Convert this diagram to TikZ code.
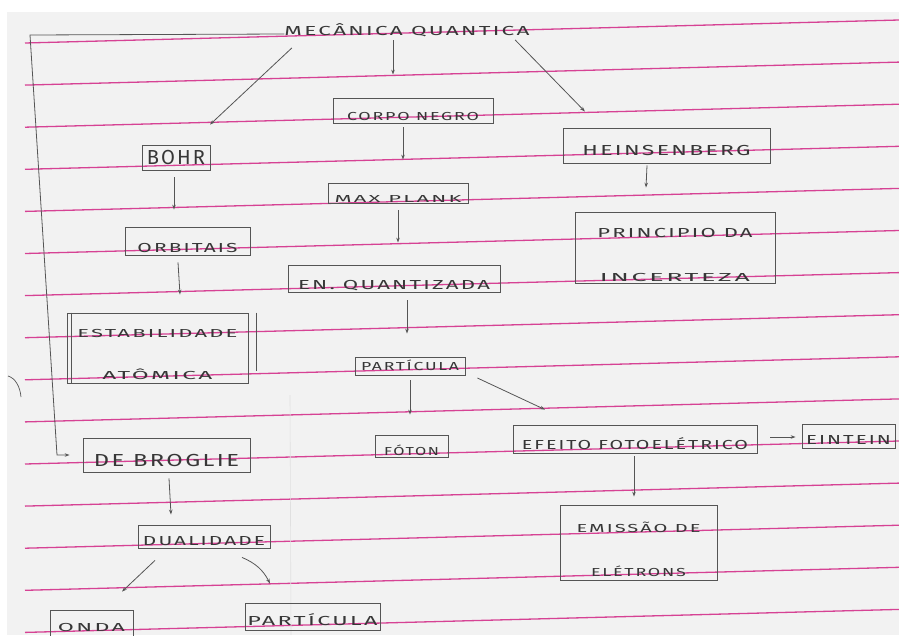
\documentclass[tikz,border=0pt]{standalone}
\usepackage{fontspec}
\usepackage{graphicx}
\usetikzlibrary{arrows.meta}
\newfontfamily\hand[LetterSpace=10]{Fira Sans}
\definecolor{paper}{RGB}{242,242,242}
\definecolor{ruling}{RGB}{214,66,148}
\definecolor{pencil}{RGB}{85,85,85}
\definecolor{ink}{RGB}{55,55,55}
% lettering: width, cap height, text
\newcommand{\hw}[3]{\resizebox{#1pt}{#2pt}{\hand\rule{0pt}{0.689em}\smash{#3}}}
% invisible strut that pushes a line down inside its box
\newcommand{\up}[1]{\rule{0pt}{#1pt}}

\begin{document}
\begin{tikzpicture}[x=1pt,y=-1pt,
  box/.style={draw=pencil, line width=0.8pt, rectangle, inner sep=0pt, text=ink},
  lbl/.style={inner sep=0pt, text=ink},
  arr/.style={draw=pencil, line width=0.8pt, -{Stealth[length=5pt,width=3.5pt]}},
  ruled/.style={draw=ruling, line width=1.3pt}]

\useasboundingbox (0,0) rectangle (899,635);
\fill[white] (0,0) rectangle (899,635);
\fill[paper] (7,12) rectangle (899,635);

% ruled lines of the notebook page
\foreach \i in {0,...,14}
  \draw[ruled] (25,{43+42.1*\i}) -- (899,{20+42.1*\i});
% faint fold of the sheet
\draw[black!12, line width=0.6pt] (290,395) -- (291,635);
% torn edge of a punched hole
\draw[pencil, line width=0.7pt] (8,376) .. controls (15,378) and (20,386) .. (21,397);

% ---- concepts ----
\node[lbl] (mq) at (407,31) {\hw{245}{9}{MECÂNICA QUANTICA}};

\node[box, minimum width=160pt, minimum height=25pt] (corpo) at (413,110.5)
  {\up{19}\hw{132}{8}{CORPO NEGRO}};
\node[box, minimum width=140pt, minimum height=20pt] (plank) at (398,193)
  {\up{19}\hw{127}{7}{MAX PLANK}};
\node[box, minimum width=212pt, minimum height=27pt] (enq) at (394,278.5)
  {\up{22}\hw{192}{9}{EN. QUANTIZADA}};
\node[box, minimum width=110pt, minimum height=18pt] (part) at (410,366)
  {\hw{98}{8}{PARTÍCULA}};
\node[box, minimum width=73pt, minimum height=22pt] (foton) at (411.5,446)
  {\up{18}\hw{55}{8}{FÓTON}};
\node[box, minimum width=244pt, minimum height=28pt] (efeito) at (635,439)
  {\up{21}\hw{226}{9}{EFEITO FOTOELÉTRICO}};
\node[box, minimum width=93pt, minimum height=24pt] (eintein) at (848.5,436)
  {\up{17}\hw{85}{9}{EINTEIN}};
\node[box, minimum width=157pt, minimum height=75pt, align=center,
      font=\fontsize{10}{44}\selectfont] (emissao) at (638.5,542.5)
  {\up{23}\hw{124}{8}{EMISSÃO DE}\\\hw{95}{8}{ELÉTRONS}};

\node[box, minimum width=207pt, minimum height=35pt] (heins) at (666.5,145.5)
  {\up{19}\hw{168}{10}{HEINSENBERG}};
\node[box, minimum width=200pt, minimum height=71pt, align=center,
      font=\fontsize{10}{44}\selectfont] (princ) at (675,247.5)
  {\up{24}\hw{155}{9}{PRINCIPIO DA}\\\hw{150}{8}{INCERTEZA}};

\node[box, minimum width=68pt, minimum height=25pt] (bohr) at (176,157.5)
  {\hw{58}{14}{BOHR}};
\node[box, minimum width=125pt, minimum height=28pt] (orb) at (187.5,241)
  {\up{23}\hw{100}{9}{ORBITAIS}};
\node[box, minimum width=181pt, minimum height=70pt, align=center,
      font=\fontsize{10}{42}\selectfont] (estab) at (157.5,348)
  {\up{20}\hw{160}{8}{ESTABILIDADE}\\\hw{110}{8}{ATÔMICA}};
\draw[pencil, line width=0.8pt] ([xshift=5pt]estab.north west) -- ([xshift=5pt]estab.south west);
\draw[pencil, line width=0.7pt] ([xshift=8pt]estab.north east) -- ([xshift=8pt,yshift=12pt]estab.south east);

\node[box, minimum width=167pt, minimum height=34pt] (debrog) at (166.5,455)
  {\up{22}\hw{145}{12}{DE BROGLIE}};
\node[box, minimum width=132pt, minimum height=23pt] (dual) at (204,536.5)
  {\up{18}\hw{122}{9}{DUALIDADE}};
\node[box, minimum width=83pt, minimum height=35pt] (onda) at (91.5,627.5)
  {\hw{67}{8}{ONDA}};
\node[box, minimum width=135pt, minimum height=27pt] (part2) at (312.5,617)
  {\up{17}\hw{130}{9}{PARTÍCULA}};

% ---- connectors ----
\coordinate (c1) at (30,35);
\coordinate (c2) at (57,455);
\draw[arr, shorten >=13pt] ([shift={(0,3)}]mq.west) -- (c1) -- (c2) -- (debrog.west);

\draw[arr] ([shift={(-14,4.5)}]mq.south) -- ([shift={(-20,-23)}]corpo.north);
\draw[arr] ([shift={(7.5,17)}]mq.west) -- ([shift={(34,-20)}]bohr.north);
\draw[arr] ([shift={(-14.5,9)}]mq.east) -- ([shift={(-81.5,-16)}]heins.north);

\draw[arr] ([shift={(-10,4)}]corpo.south) -- ([shift={(5,-23)}]plank.north);
\draw[arr] ([shift={(0,7)}]plank.south) -- ([shift={(4,-22)}]enq.north);
\draw[arr] ([shift={(13,8)}]enq.south) -- ([shift={(-3,-23)}]part.north);
\draw[arr] ([shift={(0,5)}]part.south) -- ([shift={(-1.5,-20)}]foton.north);
\draw[arr] ([shift={(12,12)}]part.east) -- ([shift={(-90,-15)}]efeito.north);
\draw[arr] ([shift={(13,-2)}]efeito.east) -- ([shift={(-6,1)}]eintein.west);
\draw[arr] ([shift={(-1,3)}]efeito.south) -- ([shift={(-4.5,-8)}]emissao.north);

\draw[arr] ([shift={(-19.5,2)}]heins.south) -- ([shift={(-29,-24)}]princ.north);

\draw[arr] ([shift={(-2,7)}]bohr.south) -- ([shift={(-13.5,-17)}]orb.north);
\draw[arr] ([shift={(-9.5,7)}]orb.south) -- ([shift={(22.5,-18)}]estab.north);

\draw[arr] ([shift={(2.5,6)}]debrog.south) -- ([shift={(-33,-10)}]dual.north);
\draw[arr] ([shift={(-49,12)}]dual.south) -- ([shift={(30.5,-18)}]onda.north);
\draw[arr] ([shift={(38,9)}]dual.south) to[bend left=20] ([shift={(-42.5,-19.5)}]part2.north);

\end{tikzpicture}
\end{document}
